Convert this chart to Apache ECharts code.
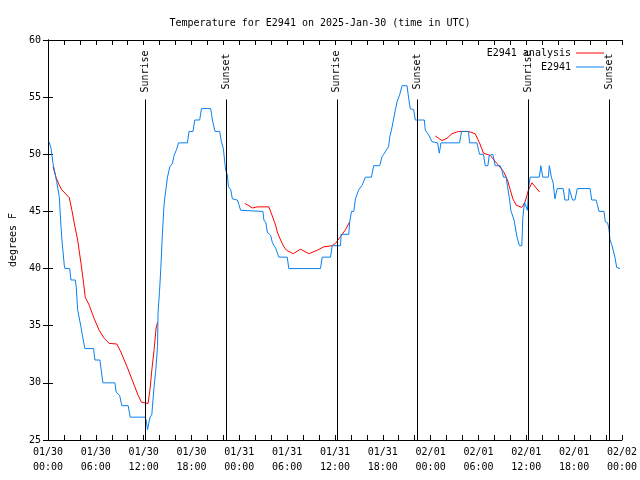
<!DOCTYPE html>
<html><head><meta charset="utf-8">
<script src="https://cdn.jsdelivr.net/npm/echarts/dist/echarts.min.js"></script>
<style>html,body{margin:0;padding:0;background:#fff}#c{width:640px;height:480px}</style>
</head><body><div id="c"></div><script>
// hours since 2025-01-30 00:00 UTC
const blueHours = [0.13,0.38,0.63,0.88,1.09,1.41,1.63,1.75,2.04,2.13,2.72,2.88,3.42,3.54,3.72,4.13,4.42,4.63,5.72,5.89,
6.51,6.64,6.89,8.39,8.55,8.98,9.27,10.06,10.31,12.15,12.31,12.48,12.68,12.81,13.02,13.31,13.52,13.74,13.81,13.99,
14.15,14.36,14.56,14.78,14.99,15.28,15.61,15.82,16.12,16.37,17.49,17.69,18.19,18.41,19.03,19.25,20.41,20.62,20.95,21.54,
21.75,22.0,22.16,22.29,22.50,22.63,22.92,23.13,23.75,23.95,24.17,26.96,27.08,27.33,27.51,27.92,28.14,28.34,28.55,28.96,
30.01,30.21,34.18,34.40,35.44,35.65,36.69,36.78,37.73,37.85,38.07,38.36,38.57,38.98,39.41,39.82,40.57,40.86,41.61,41.91,
42.11,42.74,42.86,43.08,43.29,43.58,43.79,44.11,44.42,45.04,45.24,45.45,45.87,46.08,47.21,47.33,47.75,48.17,48.87,49.09,
49.30,51.63,51.88,52.75,52.88,53.81,54.13,54.63,54.85,55.18,55.35,55.81,56.10,56.72,56.94,57.14,57.47,57.64,57.89,58.06,
58.48,58.82,59.14,59.44,59.56,59.77,59.98,60.14,60.32,60.48,61.64,61.82,62.07,62.77,62.89,63.15,63.37,63.59,63.88,64.63,
64.84,65.3,65.38,65.59,65.8,66.1,66.4,68.0,68.21,68.75,68.91,69.12,69.75,69.91,70.21,70.38,70.5,70.72,70.92,71.12,
71.34,71.75];
const blueTemps = [51.1,50.5,49.2,49.1,47.6,46.3,43.7,42.5,40.3,40.0,40,39,39,38.4,36.4,34.9,33.75,33,33,32,
32,31.3,30,30,29.2,28.9,28,28,27,27,26.75,25.9,26.6,27,27.2,29.7,31.1,33.2,36.2,38,
40,43.2,45.6,46.9,48.0,48.9,49.2,49.9,50.4,51,51,52,52,53,53,54,54,53,52,52,
51.1,50.5,49.4,48.6,48.2,47.2,46.9,46.1,46,45.6,45.1,45,44.25,44,43.2,42.9,42.3,42.0,41.8,41,
41,40,40,41,41,42,42,43,43,44.1,45,45,46.1,46.9,47.3,48,48,49,49,49.8,
50,50.7,51.5,52.1,52.85,53.9,54.6,55.2,56,56,54.9,54,53.9,53,53,52.1,51.7,51.1,51,50.1,
51,51,52,52,51,51,50,50,49,49,49.9,50,49,49,48.6,48,48,47.2,46.1,45.1,
44.2,42.8,42,42,44.4,45.8,45.7,45.1,47.2,48,48,49,48,48,49,48,47.5,46.1,47,47,
46,46,47,47,46,46,47,47,46,46,45.6,45,45,44.1,44,43.4,42.5,42.1,42,41,
40.1,40];
const redHours = [0.63,1.0,1.41,1.72,2.13,2.67,3.0,3.29,3.72,4.13,4.47,4.67,5.17,5.80,6.42,7.05,7.68,8.64,9.14,9.98,
10.81,11.31,11.73,12.56,12.81,13.02,13.31,13.56,13.74,19,
24.67,25.21,25.63,26.26,27.71,28.14,28.55,28.76,29.18,29.59,29.93,30.77,31.68,32.72,33.77,34.6,35.65,36.06,36.69,37.32,37.85,43,
48.59,49.42,50.05,50.68,51.5,52.75,53.59,54.13,54.63,55.47,56.31,57.14,57.64,57.98,58.32,58.73,59.44,59.86,60.28,60.71,61.66];
const redTemps = [48.9,48.0,47.3,46.9,46.6,46.2,45.1,44.0,42.5,40.5,38.7,37.5,36.8,35.6,34.6,33.9,33.45,33.4,32.7,31.3,
29.8,28.9,28.3,28.2,29.5,31.1,32.9,34.8,35.3,null,
45.7,45.5,45.3,45.4,45.4,44.6,43.8,43.2,42.5,41.9,41.6,41.3,41.7,41.3,41.6,41.9,42.0,42.2,42.8,43.4,44.1,null,
51.6,51.2,51.4,51.8,52.0,52.0,51.8,51.0,50.1,49.9,49.2,48.5,47.75,46.9,46.1,45.55,45.35,45.85,46.9,47.5,46.7];
const eventHours = [12.19,22.33,36.23,46.37,60.27,70.41];
const eventNames = ['Sunrise','Sunset','Sunrise','Sunset','Sunrise','Sunset'];
const xTickLabels = ['01/30\n00:00','01/30\n06:00','01/30\n12:00','01/30\n18:00','01/31\n00:00','01/31\n06:00',
'01/31\n12:00','01/31\n18:00','02/01\n00:00','02/01\n06:00','02/01\n12:00','02/01\n18:00','02/02\n00:00'];
const seriesNames = ['E2941 analysis','E2941'];
const seriesColors = ['#ff0000','#0a80f0'];

const FONT = 'DejaVu Sans Mono';
const blueData = blueHours.map((h,i)=>[h, blueTemps[i]]);
const redData = redHours.map((h,i)=>[h, redTemps[i]]);

const markData = [];
eventHours.forEach((h,i)=>{
  markData.push([{coord:[h,25], lineStyle:{color:'#000',width:1,type:'solid'}, label:{show:false}},{coord:[h,54.8]}]);
  markData.push([{coord:[h,54.9], lineStyle:{color:'rgba(0,0,0,0)',width:1},
     label:{show:true, formatter:eventNames[i], position:'insideMiddleBottom', distance:-5,
       fontFamily:FONT, fontSize:10, color:'#000'}},{coord:[h,59.6]}]);
});

const txt = {fontFamily:FONT, fontSize:10, color:'#000'};
const axLine = {show:true, lineStyle:{color:'#000', width:1}};
const tick = {show:true, inside:true, length:5, lineStyle:{color:'#000', width:1}};

const chart = echarts.init(document.getElementById('c'));
chart.setOption({
  animation:false,
  backgroundColor:'#fff',
  title:{text:'Temperature for E2941 on 2025-Jan-30 (time in UTC)', left:'center', top:13,
    textStyle:{fontFamily:FONT, fontSize:10, fontWeight:'normal', color:'#000'}},
  grid:{left:46, right:18, top:40, bottom:40},
  legend:[
    {data:[seriesNames[0]], right:31, top:43, align:'right', icon:'rect', itemWidth:28, itemHeight:1, textStyle:txt},
    {data:[seriesNames[1]], right:31, top:57, align:'right', icon:'rect', itemWidth:28, itemHeight:1, textStyle:txt}
  ],
  xAxis:[
    {type:'value', min:0, max:72, interval:2, axisLine:axLine, axisTick:tick, splitLine:{show:false},
     axisLabel:Object.assign({margin:5, lineHeight:15, formatter:v=> (v%6===0 ? xTickLabels[v/6] : '')}, txt)},
    {type:'value', position:'top', min:0, max:72, interval:2, axisLine:axLine, axisTick:tick,
     splitLine:{show:false}, axisLabel:{show:false}}
  ],
  yAxis:[
    {type:'value', min:25, max:60, interval:5, axisLine:axLine, axisTick:tick, splitLine:{show:false},
     axisLabel:Object.assign({margin:7}, txt),
     name:'degrees F', nameLocation:'middle', nameGap:30, nameTextStyle:txt},
    {type:'value', position:'right', min:25, max:60, interval:5, axisLine:axLine, axisTick:tick,
     splitLine:{show:false}, axisLabel:{show:false}}
  ],
  series:[
    {name:seriesNames[0], type:'line', data:redData, symbol:'none', connectNulls:false,
     lineStyle:{color:seriesColors[0], width:1}, itemStyle:{color:seriesColors[0]},
     markLine:{silent:true, symbol:['none','none'], animation:false, data:markData}},
    {name:seriesNames[1], type:'line', data:blueData, symbol:'none',
     lineStyle:{color:seriesColors[1], width:1}, itemStyle:{color:seriesColors[1]}}
  ]
});
</script></body></html>
